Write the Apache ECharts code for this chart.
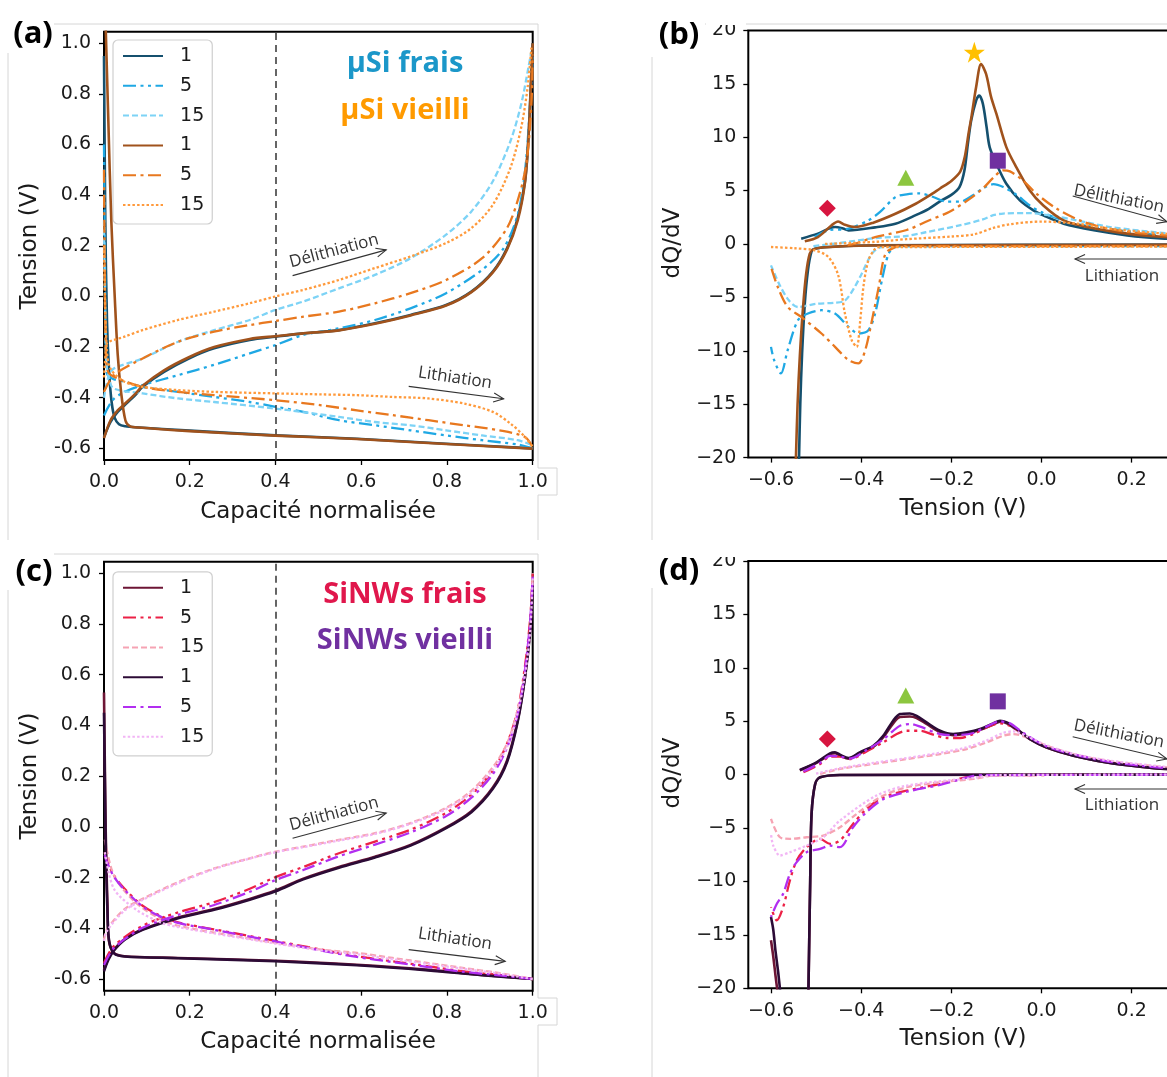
<!DOCTYPE html>
<html><head><meta charset="utf-8">
<script src="https://cdn.jsdelivr.net/npm/echarts@6/dist/echarts.min.js"></script>
<style>html,body{margin:0;padding:0;background:#fff}#c{width:1167px;height:1077px}</style>
</head><body><div id="c"></div><script>
// ---------- tick values ----------
const capTicksY = [-0.6,-0.4,-0.2,0,0.2,0.4,0.6,0.8,1.0];
const dqTicksX = [-0.6,-0.4,-0.2,0,0.2,0.4];
const vlineX = 0.4;
// ---------- panel (a) : µSi, V vs normalised capacity ----------
const aFrais1Delith = [[0,-0.555],[0.015,-0.496],[0.032,-0.456],[0.048,-0.43],[0.073,-0.39],[0.09,-0.357],[0.14,-0.298],[0.198,-0.245],[0.257,-0.205],[0.34,-0.172],[0.4,-0.159],[0.465,-0.146],[0.548,-0.133],[0.632,-0.106],[0.715,-0.073],[0.798,-0.034],[0.857,0.019],[0.907,0.098],[0.94,0.19],[0.965,0.31],[0.982,0.455],[0.99,0.626],[0.997,0.89],[1.0,1.0]];
const aFrais1Lith = [[0,0.95],[0.003,0.3],[0.007,-0.1],[0.012,-0.3],[0.018,-0.42],[0.025,-0.48],[0.035,-0.505],[0.05,-0.513],[0.073,-0.517],[0.2,-0.53],[0.4,-0.549],[0.59,-0.562],[0.798,-0.582],[1.0,-0.6]];
const aFrais5Delith = [[0,-0.47],[0.02,-0.41],[0.048,-0.377],[0.09,-0.35],[0.173,-0.311],[0.257,-0.27],[0.34,-0.225],[0.4,-0.192],[0.465,-0.152],[0.548,-0.126],[0.632,-0.093],[0.715,-0.047],[0.798,0.013],[0.882,0.105],[0.932,0.19],[0.965,0.323],[0.982,0.494],[0.994,0.758],[1.0,0.956]];
const aFrais5Lith = [[0,0.6],[0.003,0.0],[0.006,-0.3],[0.02,-0.325],[0.048,-0.337],[0.09,-0.357],[0.173,-0.377],[0.257,-0.397],[0.34,-0.417],[0.4,-0.436],[0.465,-0.456],[0.548,-0.489],[0.632,-0.509],[0.715,-0.529],[0.798,-0.549],[0.882,-0.568],[0.965,-0.585],[1.0,-0.6]];
const aFrais15Delith = [[0,-0.4],[0.01,-0.32],[0.023,-0.285],[0.09,-0.245],[0.173,-0.179],[0.257,-0.133],[0.34,-0.093],[0.4,-0.053],[0.465,-0.02],[0.548,0.032],[0.632,0.085],[0.715,0.151],[0.798,0.244],[0.857,0.336],[0.907,0.455],[0.948,0.613],[0.973,0.758],[0.99,0.904],[0.997,0.97]];
const aFrais15Lith = [[0,0.3],[0.005,-0.25],[0.012,-0.33],[0.023,-0.364],[0.09,-0.383],[0.173,-0.403],[0.257,-0.417],[0.4,-0.443],[0.548,-0.476],[0.632,-0.496],[0.715,-0.509],[0.798,-0.529],[0.882,-0.549],[0.965,-0.568],[1.0,-0.588]];
const aVieilli1Delith = [[0,-0.56],[0.015,-0.49],[0.032,-0.45],[0.048,-0.425],[0.073,-0.385],[0.09,-0.353],[0.14,-0.292],[0.198,-0.24],[0.257,-0.2],[0.34,-0.168],[0.4,-0.157],[0.465,-0.146],[0.548,-0.134],[0.632,-0.108],[0.715,-0.075],[0.798,-0.036],[0.857,0.017],[0.907,0.095],[0.94,0.185],[0.965,0.3],[0.982,0.45],[0.99,0.62],[0.997,0.88],[1.0,1.0]];
const aVieilli1Lith = [[0.004,1.06],[0.01,0.7],[0.017,0.3],[0.025,0.0],[0.032,-0.23],[0.04,-0.38],[0.05,-0.49],[0.06,-0.512],[0.08,-0.518],[0.2,-0.532],[0.4,-0.55],[0.59,-0.563],[0.798,-0.583],[1.0,-0.601]];
const aVieilli5Delith = [[0,-0.377],[0.023,-0.311],[0.09,-0.245],[0.173,-0.179],[0.257,-0.139],[0.34,-0.113],[0.4,-0.097],[0.465,-0.08],[0.548,-0.06],[0.632,-0.027],[0.715,0.013],[0.798,0.065],[0.882,0.151],[0.94,0.27],[0.969,0.402],[0.986,0.534],[0.997,0.758],[1.0,0.956]];
const aVieilli5Lith = [[0,0.5],[0.004,-0.2],[0.01,-0.3],[0.032,-0.324],[0.09,-0.357],[0.173,-0.377],[0.257,-0.39],[0.4,-0.41],[0.507,-0.43],[0.59,-0.45],[0.673,-0.469],[0.757,-0.489],[0.84,-0.509],[0.923,-0.529],[0.982,-0.555],[1.0,-0.595]];
const aVieilli15Delith = [[0,-0.32],[0.004,-0.22],[0.007,-0.185],[0.048,-0.159],[0.09,-0.133],[0.173,-0.093],[0.257,-0.06],[0.34,-0.027],[0.4,0.0],[0.465,0.026],[0.548,0.065],[0.632,0.112],[0.715,0.158],[0.798,0.211],[0.857,0.27],[0.907,0.362],[0.948,0.508],[0.973,0.666],[0.988,0.824],[0.997,0.983]];
const aVieilli15Lith = [[0,0.2],[0.006,-0.2],[0.015,-0.285],[0.048,-0.337],[0.09,-0.357],[0.173,-0.37],[0.257,-0.377],[0.4,-0.383],[0.507,-0.387],[0.59,-0.39],[0.673,-0.397],[0.757,-0.403],[0.84,-0.423],[0.907,-0.456],[0.948,-0.502],[0.982,-0.555],[1.0,-0.595]];
// ---------- panel (b) : µSi, dQ/dV vs V ----------
const bFrais1Delith = [[-0.533,0.5],[-0.496,0.97],[-0.458,1.59],[-0.44,1.45],[-0.428,1.28],[-0.369,1.56],[-0.324,1.9],[-0.279,2.7],[-0.25,3.3],[-0.225,4.0],[-0.2,4.6],[-0.182,5.33],[-0.171,6.88],[-0.163,9.5],[-0.156,11.56],[-0.145,13.43],[-0.138,13.9],[-0.13,13.12],[-0.122,11.0],[-0.115,9.07],[-0.1,7.51],[-0.078,5.64],[-0.048,4.08],[-0.018,3.15],[0.004,2.68],[0.049,1.9],[0.116,1.28],[0.19,0.81],[0.273,0.5],[0.35,0.35]];
const bFrais1Lith = [[0.35,-0.06],[-0.369,-0.12],[-0.473,-0.28],[-0.503,-0.44],[-0.51,-0.7],[-0.518,-2.46],[-0.525,-5.58],[-0.531,-10.25],[-0.535,-14.92],[-0.538,-20.5]];
const bFrais5Delith = [[-0.503,0.65],[-0.473,1.28],[-0.428,1.43],[-0.384,2.21],[-0.358,3.0],[-0.324,4.39],[-0.299,4.65],[-0.27,4.74],[-0.24,4.4],[-0.21,3.96],[-0.181,3.96],[-0.151,4.59],[-0.13,5.2],[-0.107,5.6],[-0.085,5.33],[-0.055,4.59],[-0.026,3.6],[0.004,2.9],[0.07,1.94],[0.153,1.4],[0.278,0.75],[0.35,0.6]];
const bFrais5Lith = [[0.35,-0.2],[-0.31,-0.2],[-0.324,-0.28],[-0.339,-0.9],[-0.354,-3.4],[-0.369,-6.5],[-0.384,-8.07],[-0.406,-8.38],[-0.428,-7.76],[-0.458,-6.51],[-0.488,-6.2],[-0.518,-6.51],[-0.54,-7.13],[-0.563,-9.94],[-0.578,-12.12],[-0.593,-10.87],[-0.6,-9.63]];
const bFrais15Delith = [[-0.506,-0.2],[-0.447,0.1],[-0.369,0.55],[-0.299,0.75],[-0.257,1.1],[-0.182,1.74],[-0.13,2.3],[-0.107,2.7],[-0.085,2.85],[-0.033,2.9],[0.019,2.68],[0.079,2.21],[0.153,1.59],[0.278,1.0],[0.35,0.85]];
const bFrais15Lith = [[0.35,-0.1],[-0.354,-0.28],[-0.376,-0.9],[-0.399,-2.8],[-0.414,-4.0],[-0.436,-5.3],[-0.46,-5.5],[-0.5,-5.6],[-0.54,-5.9],[-0.56,-5.3],[-0.58,-3.9],[-0.6,-2.0]];
const bVieilli1Delith = [[-0.525,0.25],[-0.496,0.65],[-0.466,1.74],[-0.451,2.1],[-0.436,1.8],[-0.414,1.59],[-0.373,2.0],[-0.324,2.83],[-0.279,3.77],[-0.25,4.5],[-0.225,5.2],[-0.2,5.9],[-0.18,6.8],[-0.17,8.2],[-0.162,10.3],[-0.155,12.0],[-0.145,14.7],[-0.134,16.85],[-0.123,15.92],[-0.112,13.8],[-0.1,12.18],[-0.078,9.07],[-0.056,7.2],[-0.026,5.02],[0.004,3.61],[0.049,2.21],[0.101,1.59],[0.19,0.97],[0.273,0.65],[0.35,0.5]];
const bVieilli1Lith = [[0.35,-0.08],[-0.38,-0.14],[-0.478,-0.3],[-0.506,-0.5],[-0.514,-0.9],[-0.522,-2.8],[-0.529,-6.0],[-0.536,-10.5],[-0.541,-15.0],[-0.545,-20.5]];
const bVieilli5Delith = [[-0.43,-0.1],[-0.414,0.03],[-0.369,0.65],[-0.299,1.31],[-0.25,2.2],[-0.205,3.0],[-0.16,4.2],[-0.13,5.2],[-0.107,6.2],[-0.085,6.9],[-0.07,6.8],[-0.041,5.95],[-0.011,4.7],[0.034,3.3],[0.094,2.06],[0.168,1.28],[0.273,0.81],[0.35,0.7]];
const bVieilli5Lith = [[0.35,-0.2],[-0.31,-0.2],[-0.324,-0.28],[-0.346,-0.9],[-0.361,-4.02],[-0.376,-7.13],[-0.391,-9.94],[-0.406,-11.18],[-0.428,-10.87],[-0.458,-9.63],[-0.488,-8.38],[-0.533,-6.82],[-0.563,-5.89],[-0.585,-4.02],[-0.6,-2.15]];
const bVieilli15Delith = [[-0.48,0.0],[-0.37,0.2],[-0.3,0.45],[-0.2,0.7],[-0.15,0.9],[-0.107,1.5],[-0.07,1.85],[0.0,2.1],[0.079,1.9],[0.153,1.43],[0.273,0.97],[0.35,0.85]];
const bVieilli15Lith = [[0.35,-0.25],[-0.36,-0.3],[-0.369,-0.44],[-0.384,-1.53],[-0.395,-4.0],[-0.402,-7.13],[-0.41,-9.63],[-0.421,-9.0],[-0.436,-6.51],[-0.451,-2.9],[-0.473,-1.21],[-0.503,-0.59],[-0.548,-0.4],[-0.6,-0.28]];
const bDiamond = [[-0.475,3.34]], bTriangle = [[-0.301,6.2]], bSquare = [[-0.097,7.8]], bStar = [[-0.149,17.95]];
// ---------- panel (c) : SiNWs, V vs normalised capacity ----------
const cFrais1Delith = [[0,-0.564],[0.01,-0.52],[0.023,-0.484],[0.05,-0.44],[0.09,-0.404],[0.173,-0.357],[0.257,-0.324],[0.34,-0.284],[0.4,-0.251],[0.465,-0.204],[0.548,-0.158],[0.632,-0.118],[0.715,-0.071],[0.798,-0.002],[0.857,0.062],[0.907,0.155],[0.94,0.261],[0.965,0.421],[0.982,0.594],[0.994,0.78],[1.0,0.953]];
const cFrais1Lith = [[0,0.53],[0.003,0.1],[0.005,-0.111],[0.008,-0.3],[0.011,-0.444],[0.023,-0.497],[0.048,-0.51],[0.173,-0.517],[0.4,-0.528],[0.59,-0.544],[0.757,-0.564],[0.882,-0.584],[1.0,-0.6]];
const cFrais5Delith = [[0,-0.537],[0.023,-0.47],[0.09,-0.39],[0.173,-0.337],[0.257,-0.297],[0.34,-0.244],[0.4,-0.198],[0.465,-0.158],[0.548,-0.104],[0.632,-0.058],[0.715,-0.011],[0.798,0.055],[0.857,0.128],[0.907,0.222],[0.94,0.328],[0.965,0.461],[0.982,0.634],[0.994,0.82],[1.0,1.0]];
const cFrais5Lith = [[0.002,-0.1],[0.005,-0.124],[0.023,-0.191],[0.048,-0.244],[0.09,-0.311],[0.132,-0.351],[0.173,-0.377],[0.257,-0.404],[0.4,-0.45],[0.507,-0.484],[0.59,-0.51],[0.673,-0.53],[0.757,-0.55],[0.84,-0.57],[0.923,-0.584],[1.0,-0.6]];
const cFrais15Delith = [[0,-0.444],[0.007,-0.404],[0.048,-0.324],[0.09,-0.284],[0.173,-0.218],[0.257,-0.164],[0.34,-0.124],[0.4,-0.098],[0.465,-0.078],[0.548,-0.051],[0.632,-0.025],[0.715,0.015],[0.798,0.075],[0.857,0.142],[0.907,0.235],[0.94,0.328],[0.965,0.461],[0.982,0.607],[0.994,0.78],[1.0,1.0]];
const cFrais15Lith = [[0.002,-0.05],[0.023,-0.191],[0.073,-0.297],[0.132,-0.364],[0.173,-0.39],[0.257,-0.417],[0.4,-0.457],[0.507,-0.484],[0.59,-0.497],[0.673,-0.517],[0.757,-0.537],[0.84,-0.557],[0.923,-0.577],[1.0,-0.6]];
const cVieilli1Delith = [[0,-0.57],[0.01,-0.525],[0.023,-0.488],[0.05,-0.443],[0.09,-0.406],[0.173,-0.36],[0.257,-0.327],[0.34,-0.287],[0.4,-0.254],[0.465,-0.207],[0.548,-0.161],[0.632,-0.121],[0.715,-0.074],[0.798,-0.005],[0.857,0.058],[0.907,0.15],[0.94,0.255],[0.965,0.415],[0.982,0.588],[0.994,0.77],[1.0,0.95]];
const cVieilli1Lith = [[0,0.45],[0.003,0.05],[0.005,-0.15],[0.008,-0.33],[0.012,-0.45],[0.024,-0.5],[0.048,-0.511],[0.173,-0.518],[0.4,-0.53],[0.59,-0.546],[0.757,-0.566],[0.882,-0.585],[1.0,-0.6]];
const cVieilli5Delith = [[0,-0.545],[0.023,-0.478],[0.09,-0.398],[0.173,-0.347],[0.257,-0.308],[0.34,-0.256],[0.4,-0.21],[0.465,-0.17],[0.548,-0.116],[0.632,-0.07],[0.715,-0.022],[0.798,0.043],[0.857,0.115],[0.907,0.208],[0.94,0.312],[0.965,0.445],[0.982,0.62],[0.994,0.81],[1.0,0.99]];
const cVieilli5Lith = [[0.002,-0.11],[0.005,-0.13],[0.023,-0.196],[0.048,-0.248],[0.09,-0.314],[0.132,-0.354],[0.173,-0.379],[0.257,-0.406],[0.4,-0.452],[0.507,-0.488],[0.59,-0.513],[0.673,-0.533],[0.757,-0.553],[0.84,-0.572],[0.923,-0.586],[1.0,-0.6]];
const cVieilli15Delith = [[0,-0.45],[0.007,-0.41],[0.048,-0.33],[0.09,-0.288],[0.173,-0.222],[0.257,-0.166],[0.34,-0.125],[0.4,-0.1],[0.465,-0.08],[0.548,-0.054],[0.632,-0.028],[0.715,0.012],[0.798,0.07],[0.857,0.135],[0.907,0.225],[0.94,0.315],[0.965,0.45],[0.982,0.6],[0.994,0.77],[1.0,0.98]];
const cVieilli15Lith = [[0.002,-0.1],[0.023,-0.244],[0.073,-0.324],[0.132,-0.377],[0.173,-0.395],[0.257,-0.42],[0.4,-0.46],[0.507,-0.487],[0.59,-0.502],[0.673,-0.522],[0.757,-0.541],[0.84,-0.56],[0.923,-0.579],[1.0,-0.6]];
// ---------- panel (d) : SiNWs, dQ/dV vs V ----------
const dFrais1Delith = [[-0.536,0.4],[-0.499,1.1],[-0.469,1.9],[-0.458,2.0],[-0.447,1.8],[-0.428,1.5],[-0.403,2.0],[-0.373,2.6],[-0.351,3.5],[-0.329,4.8],[-0.314,5.4],[-0.292,5.45],[-0.277,5.3],[-0.255,4.75],[-0.225,4.0],[-0.196,3.7],[-0.166,3.85],[-0.136,4.2],[-0.107,4.7],[-0.092,4.95],[-0.077,4.8],[-0.055,4.2],[-0.025,3.3],[0.011,2.55],[0.071,1.78],[0.145,1.15],[0.219,0.75],[0.278,0.53],[0.35,0.42]];
const dFrais1Lith = [[0.35,0],[-0.447,-0.03],[-0.491,-0.25],[-0.502,-0.87],[-0.51,-3.68],[-0.513,-9.91],[-0.517,-20.5]];
const dFrais1LithEnd = [[-0.6,-15.5],[-0.595,-17.0],[-0.59,-18.8],[-0.585,-20.5]];
const dFrais5Delith = [[-0.528,0.22],[-0.491,1.0],[-0.469,1.68],[-0.447,1.68],[-0.425,1.46],[-0.388,2.18],[-0.351,3.02],[-0.321,3.8],[-0.299,4.11],[-0.269,4.11],[-0.24,3.74],[-0.21,3.43],[-0.181,3.43],[-0.151,3.8],[-0.122,4.42],[-0.092,4.8],[-0.07,4.58],[-0.04,3.8],[0.011,2.6],[0.071,1.85],[0.145,1.2],[0.219,0.8],[0.278,0.6],[0.35,0.48]];
const dFrais5Lith = [[0.35,0],[-0.13,-0.05],[-0.151,-0.09],[-0.225,-0.87],[-0.299,-1.5],[-0.351,-2.12],[-0.388,-3.21],[-0.418,-4.61],[-0.447,-6.17],[-0.469,-6.48],[-0.491,-6.01],[-0.521,-6.79],[-0.543,-8.04],[-0.558,-9.91],[-0.573,-12.4],[-0.587,-13.64],[-0.6,-12.4]];
const dFrais15Delith = [[-0.491,0.06],[-0.447,0.53],[-0.373,1.0],[-0.299,1.46],[-0.225,1.93],[-0.166,2.4],[-0.122,3.02],[-0.085,3.64],[-0.062,3.8],[-0.033,3.49],[0.011,2.71],[0.071,1.93],[0.145,1.31],[0.278,0.69],[0.35,0.58]];
const dFrais15Lith = [[0.35,0],[-0.1,-0.05],[-0.151,-0.4],[-0.225,-0.72],[-0.299,-1.18],[-0.358,-2.12],[-0.41,-3.68],[-0.447,-4.92],[-0.484,-5.7],[-0.521,-5.86],[-0.558,-6.01],[-0.58,-5.86],[-0.6,-4.14]];
const dVieilli1Delith = [[-0.536,0.44],[-0.499,1.15],[-0.469,1.99],[-0.458,2.09],[-0.447,1.87],[-0.428,1.56],[-0.403,2.09],[-0.373,2.71],[-0.351,3.64],[-0.329,5.05],[-0.314,5.67],[-0.292,5.73],[-0.277,5.51],[-0.255,4.89],[-0.225,4.11],[-0.196,3.8],[-0.166,3.96],[-0.136,4.27],[-0.107,4.8],[-0.092,5.05],[-0.077,4.89],[-0.055,4.27],[-0.025,3.33],[0.011,2.55],[0.071,1.78],[0.145,1.15],[0.219,0.75],[0.278,0.53],[0.35,0.42]];
const dVieilli1Lith = [[0.35,0],[-0.447,-0.03],[-0.491,-0.25],[-0.502,-0.87],[-0.51,-3.68],[-0.513,-9.91],[-0.517,-20.5]];
const dVieilli1LithEnd = [[-0.6,-13.33],[-0.595,-14.5],[-0.59,-16.5],[-0.584,-18.5],[-0.579,-20.5]];
const dVieilli5Delith = [[-0.528,0.3],[-0.491,1.1],[-0.469,1.75],[-0.447,1.7],[-0.425,1.5],[-0.388,2.3],[-0.351,3.3],[-0.329,4.1],[-0.314,4.58],[-0.292,4.74],[-0.269,4.49],[-0.225,3.8],[-0.188,3.7],[-0.151,3.9],[-0.122,4.5],[-0.092,4.98],[-0.07,4.8],[-0.04,3.9],[0.011,2.65],[0.071,1.9],[0.145,1.25],[0.219,0.85],[0.278,0.62],[0.35,0.5]];
const dVieilli5Lith = [[0.35,0],[-0.13,-0.05],[-0.151,-0.12],[-0.225,-0.95],[-0.299,-1.6],[-0.351,-2.3],[-0.388,-3.5],[-0.418,-4.92],[-0.447,-6.79],[-0.469,-6.64],[-0.491,-6.95],[-0.521,-7.26],[-0.543,-8.19],[-0.558,-9.28],[-0.573,-11.15],[-0.587,-12.09],[-0.6,-13.33]];
const dVieilli15Delith = [[-0.5,0.1],[-0.447,0.6],[-0.373,1.1],[-0.299,1.55],[-0.225,2.05],[-0.166,2.55],[-0.122,3.2],[-0.085,3.9],[-0.062,4.05],[-0.033,3.6],[0.011,2.75],[0.071,1.95],[0.145,1.35],[0.278,0.72],[0.35,0.6]];
const dVieilli15Lith = [[0.35,0],[-0.1,-0.05],[-0.151,-0.3],[-0.299,-1.03],[-0.366,-1.96],[-0.447,-4.3],[-0.484,-5.86],[-0.521,-6.64],[-0.558,-7.26],[-0.58,-7.57],[-0.595,-6.64],[-0.6,-5.55]];
const dDiamond = [[-0.475,3.34]], dTriangle = [[-0.301,7.4]], dSquare = [[-0.097,6.86]];

// ---------- styles ----------
const F = 'DejaVu Sans';
const DD = [13,4.5,3,4.5,3,4.5], DA = [13,4.5,3,4.5], DS = [6,3], DT = [2.5,2.2];
const stA = {
  F1:{color:'#15506e', type:'solid', width:2.6}, F5:{color:'#1fa8e4', type:DD, width:2.3}, F15:{color:'#7dd3f6', type:DS, width:2.3},
  V1:{color:'#a0521c', type:'solid', width:2.6}, V5:{color:'#e8781f', type:DA, width:2.3}, V15:{color:'#ff9a3c', type:DT, width:2.3}
};
const stC = {
  F1:{color:'#6d1535', type:'solid', width:2.6}, F5:{color:'#ec2146', type:DD, width:2.3}, F15:{color:'#f6a3b3', type:DS, width:2.3},
  V1:{color:'#2c0b36', type:'solid', width:2.6}, V5:{color:'#b22ef0', type:DA, width:2.3}, V15:{color:'#f2b5f5', type:DT, width:2.3}
};

function ln(name, data, gi, st, z){
  return {type:'line', name, xAxisIndex:gi, yAxisIndex:gi, data, symbol:'none', showSymbol:false,
    smooth:0.3, silent:true, z:z||2, emphasis:{disabled:true},
    lineStyle:{color:st.color, width:st.width, type:st.type, cap:'butt', join:'round'}, itemStyle:{color:st.color}};
}
function mk(data, gi, symbol, size, color){
  return {type:'scatter', xAxisIndex:gi, yAxisIndex:gi, data, symbol, symbolSize:size, silent:true, z:20,
    itemStyle:{color, opacity:1}, emphasis:{disabled:true}};
}
const starPath = 'path://M50,0 L61.8,35.1 L98.9,35.1 L69,56.7 L80.3,91.9 L50,70.2 L19.7,91.9 L31,56.7 L1.1,35.1 L38.2,35.1 Z';

const series = [];
// panel a
series.push(ln('µSi frais 1', aFrais1Delith, 0, stA.F1, 2), ln('aF1l', aFrais1Lith, 0, stA.F1, 2));
series.push(ln('µSi frais 5', aFrais5Delith, 0, stA.F5, 3), ln('aF5l', aFrais5Lith, 0, stA.F5, 3));
series.push(ln('µSi frais 15', aFrais15Delith, 0, stA.F15, 4), ln('aF15l', aFrais15Lith, 0, stA.F15, 4));
series.push(ln('µSi vieilli 1', aVieilli1Delith, 0, stA.V1, 5), ln('aV1l', aVieilli1Lith, 0, stA.V1, 5));
series.push(ln('µSi vieilli 5', aVieilli5Delith, 0, stA.V5, 6), ln('aV5l', aVieilli5Lith, 0, stA.V5, 6));
series.push(ln('µSi vieilli 15', aVieilli15Delith, 0, stA.V15, 7), ln('aV15l', aVieilli15Lith, 0, stA.V15, 7));
series[0].markLine = {silent:true, symbol:'none', label:{show:false}, lineStyle:{color:'#333', type:[7,5], width:1.5}, data:[{xAxis:vlineX}]};
// panel b
series.push(ln('bF1d', bFrais1Delith, 1, stA.F1, 2), ln('bF1l', bFrais1Lith, 1, stA.F1, 2));
series.push(ln('bF5d', bFrais5Delith, 1, stA.F5, 3), ln('bF5l', bFrais5Lith, 1, stA.F5, 3));
series.push(ln('bF15d', bFrais15Delith, 1, stA.F15, 4), ln('bF15l', bFrais15Lith, 1, stA.F15, 4));
series.push(ln('bV1d', bVieilli1Delith, 1, stA.V1, 5), ln('bV1l', bVieilli1Lith, 1, stA.V1, 5));
series.push(ln('bV5d', bVieilli5Delith, 1, stA.V5, 6), ln('bV5l', bVieilli5Lith, 1, stA.V5, 6));
series.push(ln('bV15d', bVieilli15Delith, 1, stA.V15, 7), ln('bV15l', bVieilli15Lith, 1, stA.V15, 7));
series.push(mk(bDiamond,1,'diamond',17,'#d7153f'), mk(bTriangle,1,'triangle',[17,16],'#8cc63f'), mk(bSquare,1,'rect',16,'#7030a0'), mk(bStar,1,starPath,21,'#ffc000'));
// panel c
const cStart = series.length;
series.push(ln('SiNWs frais 1', cFrais1Delith, 2, stC.F1, 2), ln('cF1l', cFrais1Lith, 2, stC.F1, 2));
series.push(ln('SiNWs frais 5', cFrais5Delith, 2, stC.F5, 3), ln('cF5l', cFrais5Lith, 2, stC.F5, 3));
series.push(ln('SiNWs frais 15', cFrais15Delith, 2, stC.F15, 4), ln('cF15l', cFrais15Lith, 2, stC.F15, 4));
series.push(ln('SiNWs vieilli 1', cVieilli1Delith, 2, stC.V1, 5), ln('cV1l', cVieilli1Lith, 2, stC.V1, 5));
series.push(ln('SiNWs vieilli 5', cVieilli5Delith, 2, stC.V5, 6), ln('cV5l', cVieilli5Lith, 2, stC.V5, 6));
series.push(ln('SiNWs vieilli 15', cVieilli15Delith, 2, stC.V15, 7), ln('cV15l', cVieilli15Lith, 2, stC.V15, 7));
series[cStart].markLine = {silent:true, symbol:'none', label:{show:false}, lineStyle:{color:'#333', type:[7,5], width:1.5}, data:[{xAxis:vlineX}]};
// panel d
series.push(ln('dF1d', dFrais1Delith, 3, stC.F1, 2), ln('dF1l', dFrais1Lith, 3, stC.F1, 2), ln('dF1e', dFrais1LithEnd, 3, stC.F1, 2));
series.push(ln('dF5d', dFrais5Delith, 3, stC.F5, 3), ln('dF5l', dFrais5Lith, 3, stC.F5, 3));
series.push(ln('dF15d', dFrais15Delith, 3, stC.F15, 4), ln('dF15l', dFrais15Lith, 3, stC.F15, 4));
series.push(ln('dV1d', dVieilli1Delith, 3, stC.V1, 5), ln('dV1l', dVieilli1Lith, 3, stC.V1, 5), ln('dV1e', dVieilli1LithEnd, 3, stC.V1, 5));
series.push(ln('dV5d', dVieilli5Delith, 3, stC.V5, 6), ln('dV5l', dVieilli5Lith, 3, stC.V5, 6));
series.push(ln('dV15d', dVieilli15Delith, 3, stC.V15, 7), ln('dV15l', dVieilli15Lith, 3, stC.V15, 7));
series.push(mk(dDiamond,3,'diamond',17,'#d7153f'), mk(dTriangle,3,'triangle',[17,16],'#8cc63f'), mk(dSquare,3,'rect',16,'#7030a0'));

// ---------- axes ----------
const tickStyle = {show:true, inside:false, length:5, lineStyle:{color:'#000', width:1.3}};
const lblBase = {fontFamily:F, fontSize:19, color:'#1a1a1a'};
const minus = v => (v < 0 ? '\u2212' + Math.abs(v) : String(v));
function capX(gi){ return {type:'value', gridIndex:gi, min:0, max:1, interval:0.2,
  axisLine:{show:false, onZero:false}, axisTick:tickStyle, splitLine:{show:false},
  axisLabel:Object.assign({margin:13, formatter:v=>v.toFixed(1)}, lblBase)}; }
function capY(gi){ return {type:'value', gridIndex:gi, min:-0.6461, max:1.0458,
  axisLine:{show:false, onZero:false}, axisTick:Object.assign({customValues:capTicksY}, tickStyle), splitLine:{show:false},
  axisLabel:Object.assign({margin:13, customValues:capTicksY, formatter:v=>v.toFixed(1)}, lblBase)}; }
function dqX(gi){ return {type:'value', gridIndex:gi, min:-0.6503, max:0.6,
  axisLine:{show:false, onZero:false}, axisTick:Object.assign({customValues:dqTicksX}, tickStyle), splitLine:{show:false},
  axisLabel:Object.assign({margin:13, customValues:dqTicksX, formatter:v=>(v<0?'\u2212'+Math.abs(v).toFixed(1):v.toFixed(1))}, lblBase)}; }
function dqY(gi){ return {type:'value', gridIndex:gi, min:-20, max:20, interval:5,
  axisLine:{show:false, onZero:false}, axisTick:tickStyle, splitLine:{show:false},
  axisLabel:Object.assign({margin:12, formatter:minus}, lblBase)}; }

function legendFor(names, top){
  return {data:names, orient:'vertical', left:113, top, selectedMode:false,
    itemWidth:40, itemHeight:20, itemGap:9.8, padding:[6,8,9,9],
    backgroundColor:'rgba(255,255,255,0.85)', borderColor:'#cfcfcf', borderWidth:1.2, borderRadius:5,
    itemStyle:{opacity:0, borderWidth:0},
    textStyle:{fontFamily:F, fontSize:19, color:'#1a1a1a', lineHeight:20},
    formatter: n => '  ' + n.split(' ').pop()};
}

// ---------- graphic: texts, arrows, frame ----------
const G = [];
function txt(text, x, y, font, fill, rot){
  G.push({type:'text', x, y, rotation:rot||0, z:50, silent:true,
    style:{text, font, fill, align:'center', verticalAlign:'middle'}});
}
function arrow(x1,y1,x2,y2){
  const a = Math.atan2(y2-y1, x2-x1), L = 11, w = 0.42;
  G.push({type:'line', z:50, silent:true, shape:{x1,y1,x2,y2}, style:{stroke:'#333', lineWidth:1.1}});
  G.push({type:'polyline', z:50, silent:true, shape:{points:[[x2-L*Math.cos(a-w), y2-L*Math.sin(a-w)],[x2,y2],[x2-L*Math.cos(a+w), y2-L*Math.sin(a+w)]]},
    style:{stroke:'#333', lineWidth:1.1, fill:null}});
}
function gline(points){
  G.push({type:'polyline', z:40, silent:true, shape:{points}, style:{stroke:'#d6d6d6', lineWidth:1, fill:null}});
}
// composite-figure frame remnants
gline([[54,24],[538,24],[538,468],[557,468],[557,495],[538,495],[538,540]]);
gline([[8,53],[8,540]]);
gline([[54,554],[538,554],[538,998],[557,998],[557,1025],[538,1025],[538,1077]]);
gline([[8,590],[8,1077]]);
gline([[652,57],[652,540]]);
gline([[705,24],[1167,24]]);
gline([[652,588],[652,1077]]);
// cropped top of "20" labels
G.push({type:'rect', z:45, silent:true, shape:{x:706,y:0,width:40,height:25}, style:{fill:'#fff'}});
G.push({type:'rect', z:45, silent:true, shape:{x:706,y:540,width:40,height:17}, style:{fill:'#fff'}});
// panel letters
const bold = 'bold 31px "Open Sans"';
txt('(a)', 33, 34, bold, '#000'); txt('(b)', 679, 35, bold, '#000');
txt('(c)', 34, 572, bold, '#000'); txt('(d)', 679, 571, bold, '#000');
// axis titles
const tf = '23px "DejaVu Sans"';
txt('Capacité normalisée', 318, 512, tf, '#1a1a1a'); txt('Capacité normalisée', 318, 1042, tf, '#1a1a1a');
txt('Tension (V)', 30, 246, tf, '#1a1a1a', Math.PI/2); txt('Tension (V)', 30, 776, tf, '#1a1a1a', Math.PI/2);
txt('Tension (V)', 963, 509, tf, '#1a1a1a'); txt('Tension (V)', 963, 1039, tf, '#1a1a1a');
txt('dQ/dV', 673, 243, tf, '#1a1a1a', Math.PI/2); txt('dQ/dV', 673, 773, tf, '#1a1a1a', Math.PI/2);
// sample titles
const sf = 'bold 29px "Open Sans"';
txt('µSi frais', 405, 64, sf, '#1b97c9'); txt('µSi vieilli', 405, 111, sf, '#ff9a00');
txt('SiNWs frais', 405, 595, sf, '#e0174c'); txt('SiNWs vieilli', 405, 641, sf, '#7030a0');
// annotations
const af = '17px "Open Sans"';
txt('Délithiation', 334, 251, af, '#333', 15*Math.PI/180); arrow(292.6,275.6,386.2,249.9);
txt('Lithiation', 455, 378, af, '#333', -8.5*Math.PI/180); arrow(408.7,386.4,503.6,398.8);
txt('Délithiation', 334, 814, af, '#333', 15*Math.PI/180); arrow(292.6,838.3,386.2,813);
txt('Lithiation', 455, 939, af, '#333', -8.5*Math.PI/180); arrow(408.7,949.6,505.2,961.4);
txt('Délithiation', 1119, 199, af, '#333', -11*Math.PI/180); arrow(1072.7,196,1167,221.7);
txt('Lithiation', 1122, 276, af, '#333'); arrow(1167,259,1075,259);
txt('Délithiation', 1119, 734, af, '#333', -11*Math.PI/180); arrow(1072.7,736.7,1167,759);
txt('Lithiation', 1122, 805, af, '#333'); arrow(1167,789,1075,789);

const gridBase = {show:true, borderColor:'#000', borderWidth:2, backgroundColor:'transparent', containLabel:false, outerBoundsMode:'none'};
const option = {
  animation:false,
  backgroundColor:'#fff',
  textStyle:{fontFamily:F},
  grid:[
    Object.assign({left:104, top:31.7, width:428.7, height:428.3}, gridBase),
    Object.assign({left:748.3, top:30.4, width:563.75, height:427.2}, gridBase),
    Object.assign({left:104, top:561.7, width:428.7, height:429}, gridBase),
    Object.assign({left:748.3, top:561, width:563.75, height:427.3}, gridBase)
  ],
  xAxis:[capX(0), dqX(1), capX(2), dqX(3)],
  yAxis:[capY(0), dqY(1), capY(2), dqY(3)],
  legend:[
    legendFor(['µSi frais 1','µSi frais 5','µSi frais 15','µSi vieilli 1','µSi vieilli 5','µSi vieilli 15'], 40),
    legendFor(['SiNWs frais 1','SiNWs frais 5','SiNWs frais 15','SiNWs vieilli 1','SiNWs vieilli 5','SiNWs vieilli 15'], 571.8)
  ],
  series,
  graphic:{elements:G}
};
const chart = echarts.init(document.getElementById('c'), null, {renderer:'canvas', width:1167, height:1077});
chart.setOption(option);
</script></body></html>
